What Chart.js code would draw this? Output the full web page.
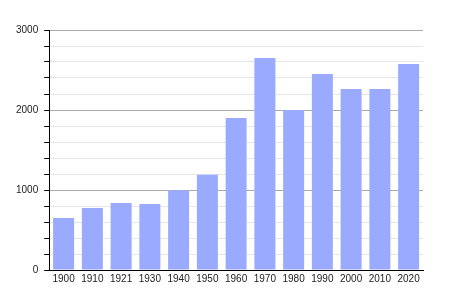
<!DOCTYPE html>
<html>
<head>
<meta charset="utf-8">
<script src="https://cdn.jsdelivr.net/npm/chart.js@4"></script>
<style>
  html, body { margin: 0; padding: 0; background: #fff; }
  #wrap { width: 450px; height: 300px; }
</style>
</head>
<body>
<div id="wrap"><canvas id="chart" width="450" height="300"></canvas></div>
<script>
var years = ["1900","1910","1921","1930","1940","1950","1960","1970","1980","1990","2000","2010","2020"];
var population = [650, 775, 837, 825, 996, 1191, 1900, 2650, 2000, 2450, 2262, 2262, 2575];
var yTicks = [0, 1000, 2000, 3000];

function isMajor(v){
  return yTicks.indexOf(v) !== -1;
}

var ctx = document.getElementById('chart');

new Chart(ctx, {
  type: 'bar',
  data: {
    labels: years,
    datasets: [{
      data: population,
      backgroundColor: '#99aaff',
      borderWidth: 0,
      barPercentage: 0.73,
      categoryPercentage: 1
    }]
  },
  options: {
    responsive: false,
    animation: false,
    layout: { padding: { left: 10, right: 27, top: 30, bottom: 12 } },
    plugins: {
      legend: { display: false },
      tooltip: { enabled: false }
    },
    scales: {
      x: {
        grid: { display: false, drawTicks: false },
        border: { color: '#000', width: 1 },
        ticks: {
          color: '#222',
          padding: 3,
          maxRotation: 0,
          font: { family: 'Liberation Sans', size: 10 }
        }
      },
      y: {
        min: 0,
        max: 3000,
        border: { color: '#000', width: 1 },
        grid: {
          color: function(c){ return isMajor(c.tick.value) ? '#aaaaaa' : '#e6e6e6'; },
          tickColor: '#000',
          tickLength: 5
        },
        ticks: {
          stepSize: 200,
          padding: 6,
          color: '#222',
          font: { family: 'Liberation Sans', size: 10 },
          callback: function(v){ return isMajor(v) ? String(v) : ''; }
        }
      }
    }
  }
});
</script>
</body>
</html>
